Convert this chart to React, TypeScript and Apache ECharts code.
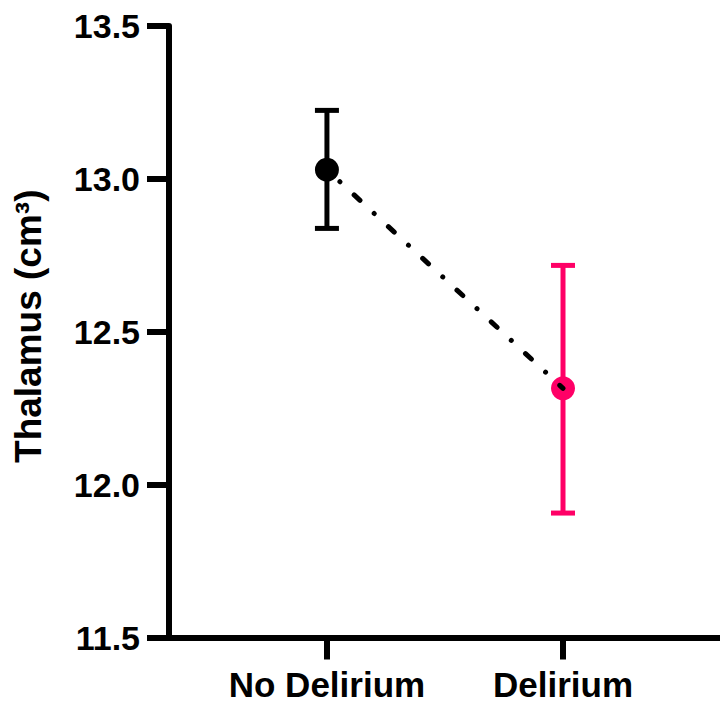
import React, { useEffect, useRef } from "react";
import * as echarts from "echarts";

const categories = ["No Delirium", "Delirium"];
const means = [13.03, 12.315];
const upper = [13.224, 12.717];
const lower = [12.838, 11.907];
const colors = ["#000000", "#FF0066"];
const yTicks = [11.5, 12.0, 12.5, 13.0, 13.5];

const FONT = "'Liberation Sans', Arial, sans-serif";

export default function App() {
  const ref = useRef<HTMLDivElement>(null);
  useEffect(() => {
    if (!ref.current) return;
    const chart = echarts.init(ref.current, null, { renderer: "svg" });
    const xs = categories.map((_, i) => i + 1);
    const option: any = {
      animation: false,
      backgroundColor: "#ffffff",
      grid: {
        left: 169,
        right: 0,
        top: 26,
        bottom: 66.5,
        containLabel: false,
        outerBoundsMode: "none",
      },
      xAxis: {
        type: "value",
        min: 0.331,
        max: 2.665,
        axisLine: { show: true, onZero: false, lineStyle: { color: "#000", width: 6, cap: "butt" } },
        axisTick: { show: true, length: 22, customValues: xs, lineStyle: { color: "#000", width: 6 } },
        axisLabel: {
          show: true,
          customValues: xs,
          margin: 29,
          color: "#000",
          fontSize: 35,
          lineHeight: 35,
          fontWeight: "bold",
          fontFamily: FONT,
          formatter: (v: number) => categories[Math.round(v) - 1] ?? "",
        },
        splitLine: { show: false },
      },
      yAxis: {
        type: "value",
        min: yTicks[0],
        max: yTicks[yTicks.length - 1],
        interval: 0.5,
        name: "Thalamus (cm³)",
        nameLocation: "middle",
        nameGap: 122,
        nameTextStyle: {
          color: "#000",
          fontSize: 37,
          fontWeight: "bold",
          fontFamily: FONT,
          padding: [0, 0, 0, 11],
        },
        axisLine: { show: true, lineStyle: { color: "#000", width: 6 } },
        axisTick: { show: true, length: 22, lineStyle: { color: "#000", width: 6 } },
        axisLabel: {
          color: "#000",
          fontSize: 34,
          fontWeight: "bold",
          fontFamily: FONT,
          margin: 29,
          formatter: (v: number) => v.toFixed(1),
        },
        splitLine: { show: false },
      },
      series: [
        {
          type: "custom",
          z: 2,
          data: categories.map((_, i) => [xs[i], lower[i], upper[i]]),
          renderItem: (params: any, api: any) => {
            const x = api.value(0);
            const lo = api.value(1);
            const hi = api.value(2);
            const pTop = api.coord([x, hi]);
            const pBot = api.coord([x, lo]);
            const color = colors[params.dataIndex];
            const hw = 12;
            const st = { stroke: color, lineWidth: 5 };
            return {
              type: "group",
              children: [
                { type: "line", shape: { x1: pTop[0], y1: pTop[1], x2: pBot[0], y2: pBot[1] }, style: st },
                { type: "line", shape: { x1: pTop[0] - hw, y1: pTop[1], x2: pTop[0] + hw, y2: pTop[1] }, style: st },
                { type: "line", shape: { x1: pBot[0] - hw, y1: pBot[1], x2: pBot[0] + hw, y2: pBot[1] }, style: st },
              ],
            };
          },
        },
        {
          type: "scatter",
          z: 3,
          symbol: "circle",
          symbolSize: 24,
          data: categories.map((_, i) => ({
            value: [xs[i], means[i]],
            itemStyle: { color: colors[i], opacity: 1 },
          })),
        },
        {
          type: "line",
          z: 4,
          symbol: "none",
          data: categories.map((_, i) => [xs[i], means[i]]),
          lineStyle: {
            color: "#000",
            width: 5,
            type: [0.01, 19.35, 8, 19.35],
            dashOffset: 29.2,
            cap: "round",
          },
        },
      ],
    };
    chart.setOption(option);
    return () => chart.dispose();
  }, []);
  return (
    <div
      ref={ref}
      style={{ position: "fixed", left: 0, top: 0, width: 720, height: 704, background: "#fff" }}
    />
  );
}
